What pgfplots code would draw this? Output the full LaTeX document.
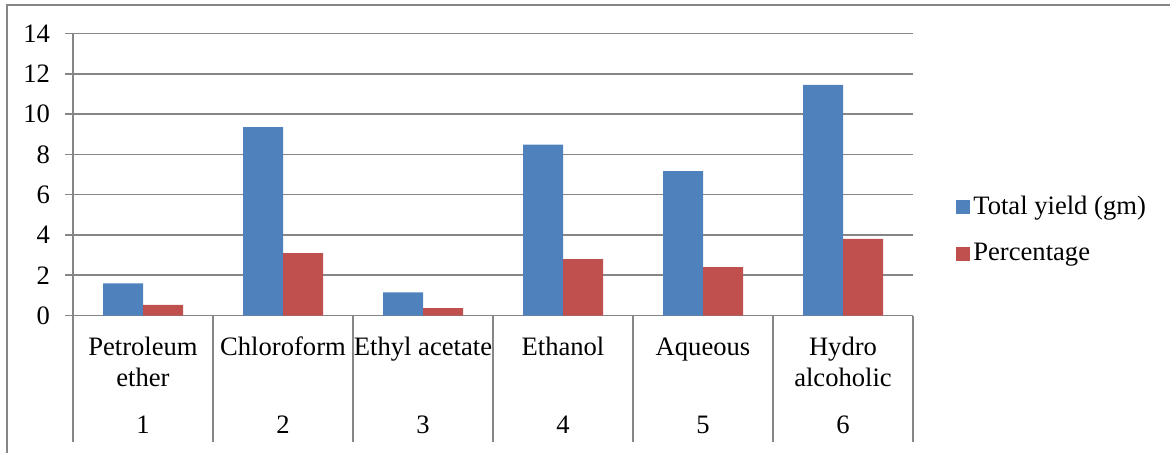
\documentclass[border=0pt]{standalone}
\usepackage{fontspec}
\setmainfont{Liberation Serif}
\usepackage{pgfplots}
\pgfplotsset{compat=1.18}
\definecolor{sblue}{HTML}{4F81BD}
\definecolor{sred}{HTML}{C0504D}
\definecolor{gline}{HTML}{868686}
\begin{document}
\begin{tikzpicture}[x=1pt,y=1pt]
\useasboundingbox (0,0) rectangle (585,226);
\draw[gline, line width=0.8pt] (3.5,-10) rectangle (600,223.5);
\begin{axis}[
  at={(36.5pt,68.25pt)}, anchor=south west,
  scale only axis, width=420pt, height=141pt,
  xmin=0.5, xmax=6.5, ymin=0, ymax=14,
  ytick={0,2,...,14},
  xtick={1,...,6},
  xticklabels={
    {\strut Petroleum\\ether\\[8pt]1},
    {\strut Chloroform\\\mbox{}\\[8pt]2},
    {\strut Ethyl acetate\\\mbox{}\\[8pt]3},
    {\strut Ethanol\\\mbox{}\\[8pt]4},
    {\strut Aqueous\\\mbox{}\\[8pt]5},
    {\strut Hydro\\alcoholic\\[8pt]6}},
  xticklabel style={align=center, anchor=north, inner sep=0pt, yshift=-4.9pt,
    font=\fontsize{13.3}{15.5}\selectfont},
  yticklabel style={font=\fontsize{13.3}{15}\selectfont, xshift=-4pt},
  /pgf/number format/assume math mode=true,
  ymajorgrids, grid style={gline, line width=0.8pt},
  axis line style={gline, line width=0.8pt},
  axis x line*=bottom, axis y line*=left,
  tick align=outside, major tick length=4pt,
  tick style={gline, line width=0.8pt},
  xtick style={draw=none},
  extra x ticks={0.5,1.5,...,6.5},
  extra x tick labels={},
  extra x tick style={major tick length=63pt, xtick style={draw=gline}},
  ybar=0pt, bar width=20pt,
  legend style={at={(1.044,0.303)}, anchor=west, draw=none, fill=none,
    row sep=9.8pt, font=\fontsize{13.3}{15}\selectfont, nodes={inner sep=1.5pt}},
  legend cell align=left,
  sq/.style={legend image code/.code={\fill[##1] (0pt,-3.5pt) rectangle (7pt,3.5pt);}},
]
\addplot[ybar, fill=sblue, draw=none, sq] coordinates {(1,1.6) (2,9.35) (3,1.15) (4,8.48) (5,7.17) (6,11.45)};
\addplot[ybar, fill=sred, draw=none, sq] coordinates {(1,0.53) (2,3.1) (3,0.37) (4,2.8) (5,2.4) (6,3.8)};
\legend{Total yield (gm), Percentage}
\end{axis}
\end{tikzpicture}
\end{document}
